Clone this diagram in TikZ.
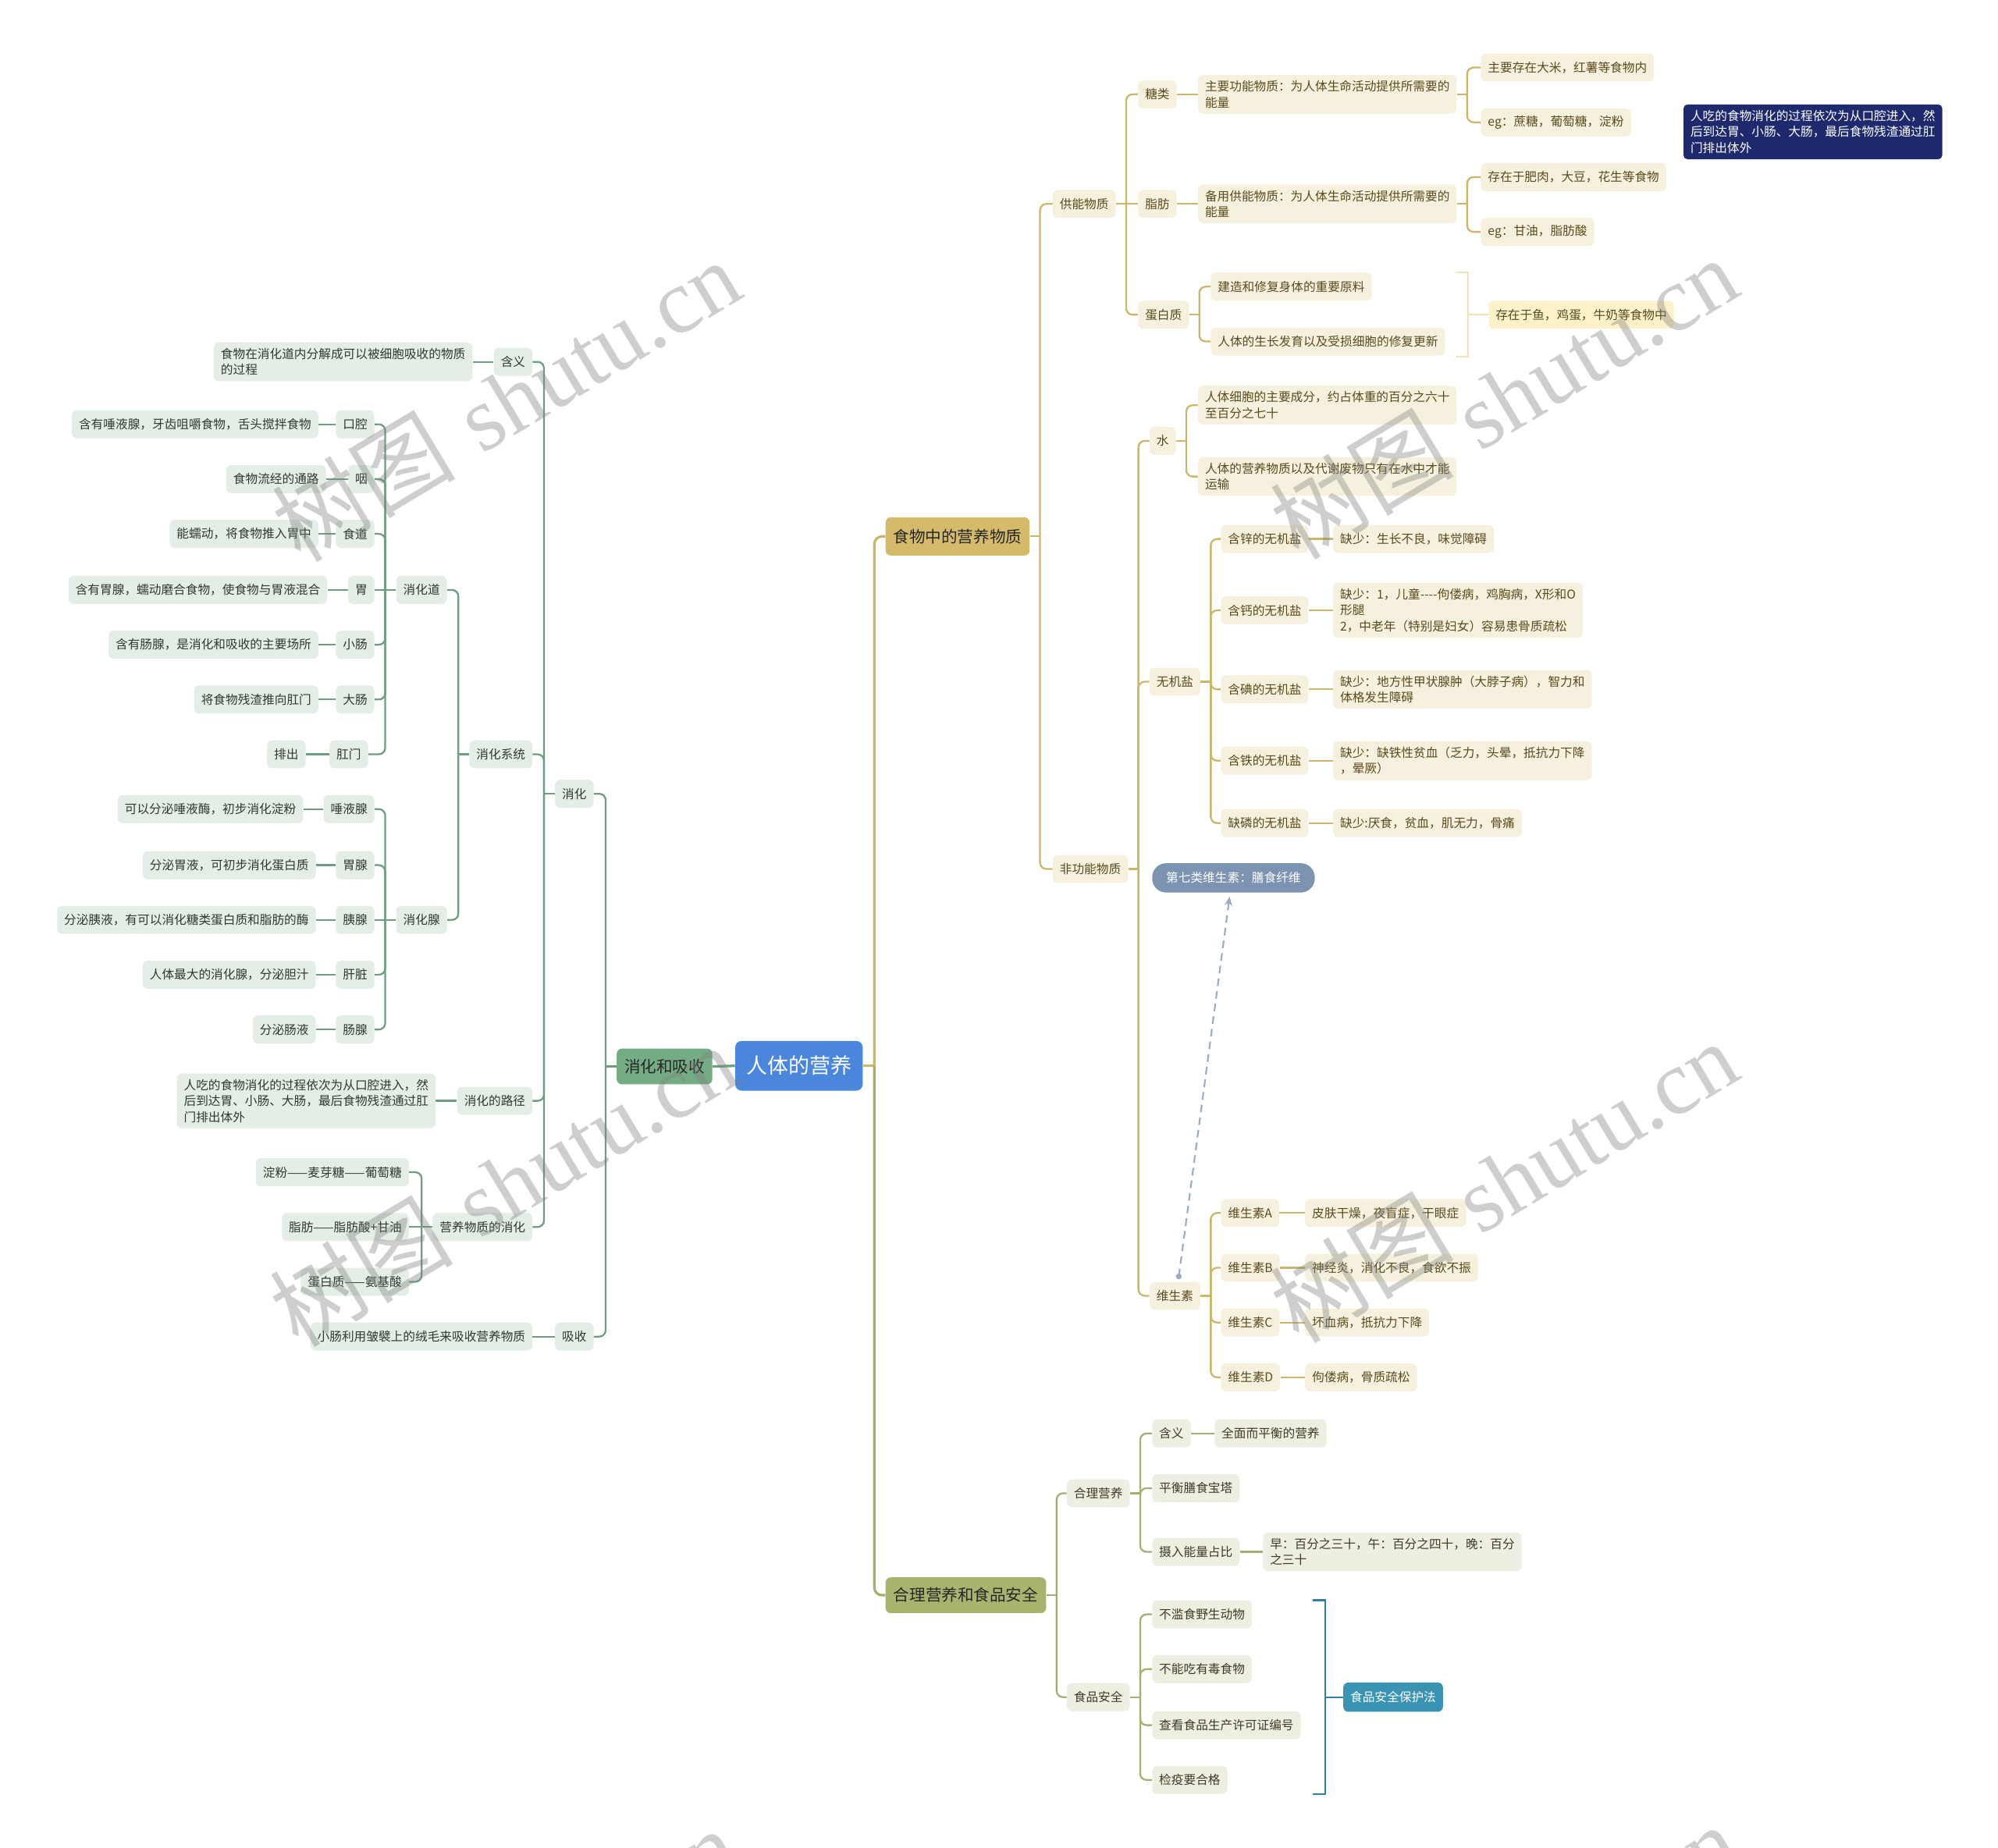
\documentclass[tikz,border=0pt]{standalone}
\usepackage{fontspec}
\newfontfamily\cjk{Noto Sans CJK SC}
\newfontfamily\wmfont{Liberation Serif}
\usetikzlibrary{arrows.meta}
\definecolor{goldline}{HTML}{CDB56A}
\definecolor{goldfill}{HTML}{F6F1DF}
\definecolor{goldtext}{HTML}{5A4A1C}
\definecolor{greenline}{HTML}{6E9E80}
\definecolor{greenfill}{HTML}{E4EEE7}
\definecolor{greentext}{HTML}{2C3A30}
\definecolor{oliveline}{HTML}{A6AE72}
\definecolor{olivefill}{HTML}{EEEEE2}
\definecolor{olivetext}{HTML}{3C3C26}
\definecolor{rootblue}{HTML}{4A86DB}
\definecolor{maingreen}{HTML}{74AC83}
\definecolor{maingold}{HTML}{D5BA6C}
\definecolor{mainolive}{HTML}{A8B46E}
\definecolor{navybox}{HTML}{1F2A6E}
\definecolor{lawblue}{HTML}{3A93B3}
\definecolor{slatebox}{HTML}{7D93B2}
\definecolor{sumfill}{HTML}{FDF1C9}
\definecolor{sumline}{HTML}{F0E3B4}
\definecolor{lawline}{HTML}{2F80A2}
\definecolor{dashcol}{HTML}{9AABC2}
\newcommand\fsmall{\cjk\fontsize{9.6}{12.5}\selectfont}
\newcommand\fmain{\cjk\fontsize{12.6}{15}\selectfont}
\newcommand\froot{\cjk\fontsize{16.5}{19}\selectfont}
\newcommand\rc[3]{\draw[#1] (#2.east) -- ([xshift=8pt]#2.east); \draw[#1,rounded corners=5pt] ([xshift=8pt]#2.east) |- (#3.west);}
\newcommand\lc[3]{\draw[#1] (#2.west) -- ([xshift=-8.5pt]#2.west); \draw[#1,rounded corners=5pt] ([xshift=-8.5pt]#2.west) |- (#3.east);}
\newcommand\rs[3]{\draw[#1] (#2.east) -- (#3.west);}
\newcommand\ls[3]{\draw[#1] (#2.west) -- (#3.east);}
\tikzset{
  box/.style={rounded corners=4pt, inner xsep=5.5pt, inner ysep=4.5pt, minimum height=22pt, align=left, font=\fsmall},
  gb/.style={box, fill=goldfill, text=goldtext, anchor=west},
  grb/.style={box, fill=greenfill, text=greentext, anchor=east},
  ob/.style={box, fill=olivefill, text=olivetext, anchor=west},
  mainbox/.style={rounded corners=4pt, inner sep=0pt, font=\fmain, text=black!85},
  gl/.style={draw=goldline, line width=1.4pt},
  grl/.style={draw=greenline, line width=1.4pt},
  ol/.style={draw=oliveline, line width=1.4pt},
  wm/.style={rotate=31, text=gray, opacity=0.38, font=\fontsize{72}{72}\selectfont},
}
\begin{document}
\begin{tikzpicture}[x=1pt,y=-1pt]
\path[use as bounding box, fill=white] (0,0) rectangle (1568,1450);

% ---------- main nodes
\node[mainbox, fill=rootblue, text=white, font=\froot, rounded corners=5pt, minimum width=100pt, minimum height=39pt] (root) at (627,836.5) {人体的营养};
\node[mainbox, fill=maingreen, minimum width=75pt, minimum height=28pt] (xhxs) at (521.5,837) {消化和吸收};
\node[mainbox, fill=maingold, minimum width=113pt, minimum height=30pt] (food) at (751.5,421) {食物中的营养物质};
\node[mainbox, fill=mainolive, minimum width=126pt, minimum height=28pt] (hlyy) at (758,1252) {合理营养和食品安全};

% ---------- gold branch
\node[gb] (gn) at (826,160) {供能物质};
\node[gb] (fgn) at (826,682) {非功能物质};
\node[gb] (tl) at (893,74) {糖类};
\node[gb] (zf) at (893,160) {脂肪};
\node[gb] (dbz) at (893,247) {蛋白质};
\node[gb] (tl1) at (940,74) {主要功能物质：为人体生命活动提供所需要的\\能量};
\node[gb] (tl1a) at (1162,53) {主要存在大米，红薯等食物内};
\node[gb] (tl1b) at (1162,96) {eg：蔗糖，葡萄糖，淀粉};
\node[gb] (zf1) at (940,160) {备用供能物质：为人体生命活动提供所需要的\\能量};
\node[gb] (zf1a) at (1162,139) {存在于肥肉，大豆，花生等食物};
\node[gb] (zf1b) at (1162,182) {eg：甘油，脂肪酸};
\node[gb] (dbz1) at (950,225) {建造和修复身体的重要原料};
\node[gb] (dbz2) at (950,268) {人体的生长发育以及受损细胞的修复更新};
\node[box, fill=sumfill, text=goldtext, anchor=west] (dbzs) at (1168,247) {存在于鱼，鸡蛋，牛奶等食物中};

\node[gb] (water) at (902,346) {水};
\node[gb] (w1) at (940,318) {人体细胞的主要成分，约占体重的百分之六十\\至百分之七十};
\node[gb] (w2) at (940,374) {人体的营养物质以及代谢废物只有在水中才能\\运输};
\node[gb] (wjy) at (902,535) {无机盐};
\node[gb] (m1) at (958,423) {含锌的无机盐};
\node[gb] (m1a) at (1046,423) {缺少：生长不良，味觉障碍};
\node[gb] (m2) at (958,479) {含钙的无机盐};
\node[gb] (m2a) at (1046,479) {缺少：1，儿童----佝偻病，鸡胸病，X形和O\\形腿\\2，中老年（特别是妇女）容易患骨质疏松};
\node[gb] (m3) at (958,541) {含碘的无机盐};
\node[gb] (m3a) at (1046,541) {缺少：地方性甲状腺肿（大脖子病），智力和\\体格发生障碍};
\node[gb] (m4) at (958,597) {含铁的无机盐};
\node[gb] (m4a) at (1046,597) {缺少：缺铁性贫血（乏力，头晕，抵抗力下降\\，晕厥）};
\node[gb] (m5) at (958,646) {缺磷的无机盐};
\node[gb] (m5a) at (1046,646) {缺少:厌食，贫血，肌无力，骨痛};
\node[box, fill=slatebox, text=white, anchor=west, rounded corners=11pt, inner xsep=11pt, minimum height=23pt] (fiber) at (904,689) {第七类维生素：膳食纤维};
\node[gb] (wss) at (902,1017) {维生素};
\node[gb] (va) at (958,952) {维生素A};
\node[gb] (vaa) at (1024,952) {皮肤干燥，夜盲症，干眼症};
\node[gb] (vb) at (958,995) {维生素B};
\node[gb] (vba) at (1024,995) {神经炎，消化不良，食欲不振};
\node[gb] (vc) at (958,1038) {维生素C};
\node[gb] (vca) at (1024,1038) {坏血病，抵抗力下降};
\node[gb] (vd) at (958,1081) {维生素D};
\node[gb] (vda) at (1024,1081) {佝偻病，骨质疏松};

\node[box, fill=navybox, text=white, anchor=west, rounded corners=3pt] (note) at (1321,103.5) {人吃的食物消化的过程依次为从口腔进入，然\\后到达胃、小肠、大肠，最后食物残渣通过肛\\门排出体外};

% ---------- olive branch
\node[ob] (hl) at (837,1172) {合理营养};
\node[ob] (sp) at (837,1332) {食品安全};
\node[ob] (hy) at (904,1125) {含义};
\node[ob] (hy1) at (953,1125) {全面而平衡的营养};
\node[ob] (ph) at (904,1168) {平衡膳食宝塔};
\node[ob] (sr) at (904,1218) {摄入能量占比};
\node[ob] (sr1) at (991,1218) {早：百分之三十，午：百分之四十，晚：百分\\之三十};
\node[ob] (s1) at (904,1267) {不滥食野生动物};
\node[ob] (s2) at (904,1310) {不能吃有毒食物};
\node[ob] (s3) at (904,1354) {查看食品生产许可证编号};
\node[ob] (s4) at (904,1397) {检疫要合格};
\node[box, fill=lawblue, text=white, anchor=west, minimum height=23pt] (law) at (1054,1332) {食品安全保护法};

% ---------- green branch
\node[grb] (xh) at (466,623) {消化};
\node[grb] (xs) at (466,1049) {吸收};
\node[grb] (xs1) at (418,1049) {小肠利用皱襞上的绒毛来吸收营养物质};
\node[grb] (hyl) at (418,284) {含义};
\node[grb] (hyl1) at (371,284) {食物在消化道内分解成可以被细胞吸收的物质\\的过程};
\node[grb] (xhxt) at (418,592) {消化系统};
\node[grb] (lj) at (418,864) {消化的路径};
\node[grb] (lj1) at (342,864) {人吃的食物消化的过程依次为从口腔进入，然\\后到达胃、小肠、大肠，最后食物残渣通过肛\\门排出体外};
\node[grb] (yy) at (418,963) {营养物质的消化};
\node[grb] (e1) at (321,920) {淀粉——麦芽糖——葡萄糖};
\node[grb] (e2) at (321,963) {脂肪——脂肪酸+甘油};
\node[grb] (e3) at (321,1006) {蛋白质——氨基酸};
\node[grb] (xhd) at (351,463) {消化道};
\node[grb] (xhx) at (351,722) {消化腺};
\node[grb] (kq) at (294,333) {口腔};
\node[grb] (kq1) at (250,333) {含有唾液腺，牙齿咀嚼食物，舌头搅拌食物};
\node[grb] (yan) at (294,376) {咽};
\node[grb] (yan1) at (256,376) {食物流经的通路};
\node[grb] (sd) at (294,419) {食道};
\node[grb] (sd1) at (250,419) {能蠕动，将食物推入胃中};
\node[grb] (wei) at (294,463) {胃};
\node[grb] (wei1) at (257,463) {含有胃腺，蠕动磨合食物，使食物与胃液混合};
\node[grb] (xc) at (294,506) {小肠};
\node[grb] (xc1) at (250,506) {含有肠腺，是消化和吸收的主要场所};
\node[grb] (dc) at (294,549) {大肠};
\node[grb] (dc1) at (250,549) {将食物残渣推向肛门};
\node[grb] (gm) at (289,592) {肛门};
\node[grb] (gm1) at (240,592) {排出};
\node[grb] (tyx) at (294,635) {唾液腺};
\node[grb] (tyx1) at (238,635) {可以分泌唾液酶，初步消化淀粉};
\node[grb] (wx) at (294,679) {胃腺};
\node[grb] (wx1) at (248,679) {分泌胃液，可初步消化蛋白质};
\node[grb] (yx) at (294,722) {胰腺};
\node[grb] (yx1) at (248,722) {分泌胰液，有可以消化糖类蛋白质和脂肪的酶};
\node[grb] (gz) at (294,765) {肝脏};
\node[grb] (gz1) at (248,765) {人体最大的消化腺，分泌胆汁};
\node[grb] (cx) at (294,808) {肠腺};
\node[grb] (cx1) at (248,808) {分泌肠液};

% ---------- connectors: root
\draw[grl, line width=2pt] (root.west) -- (xhxs.east);
\draw[gl, line width=2pt] (root.east) -- ([xshift=9pt]root.east);
\draw[gl, line width=2pt, rounded corners=6pt] ([xshift=9pt]root.east) |- (food.west);
\draw[ol, line width=2pt, rounded corners=6pt] ([xshift=9pt]root.east) |- (hlyy.west);

% gold
\rc{gl}{food}{gn} \rc{gl}{food}{fgn}
\rc{gl}{gn}{tl} \rs{gl}{gn}{zf} \rc{gl}{gn}{dbz}
\rs{gl}{tl}{tl1} \rc{gl}{tl1}{tl1a} \rc{gl}{tl1}{tl1b}
\rs{gl}{zf}{zf1} \rc{gl}{zf1}{zf1a} \rc{gl}{zf1}{zf1b}
\rc{gl}{dbz}{dbz1} \rc{gl}{dbz}{dbz2}
\rc{gl}{fgn}{water} \rc{gl}{fgn}{wjy} \rc{gl}{fgn}{wss}
\rc{gl}{water}{w1} \rc{gl}{water}{w2}
\rc{gl}{wjy}{m1} \rc{gl}{wjy}{m2} \rc{gl}{wjy}{m3} \rc{gl}{wjy}{m4} \rc{gl}{wjy}{m5}
\rs{gl}{m1}{m1a} \rs{gl}{m2}{m2a} \rs{gl}{m3}{m3a} \rs{gl}{m4}{m4a} \rs{gl}{m5}{m5a}
\rc{gl}{wss}{va} \rc{gl}{wss}{vb} \rc{gl}{wss}{vc} \rc{gl}{wss}{vd}
\rs{gl}{va}{vaa} \rs{gl}{vb}{vba} \rs{gl}{vc}{vca} \rs{gl}{vd}{vda}

% summary bracket for protein
\coordinate (bt1) at (1142,214);
\coordinate (bt2) at (1152,214);
\coordinate (bb2) at (1152,280);
\coordinate (bb1) at (1142,280);
\coordinate (bm) at (1152,247);
\draw[draw=sumline, line width=1.2pt] (bt1) -- (bt2) -- (bb2) -- (bb1);
\draw[draw=sumline, line width=1.2pt] (bm) -- (dbzs.west);

% dashed relation
\coordinate (dS) at ([xshift=3pt,yshift=4pt]wss.north);
\coordinate (dE) at ([xshift=-3pt,yshift=-3pt]fiber.south);
\fill[dashcol] (dS) circle (2.3pt);
\draw[draw=dashcol, line width=1.3pt, dash pattern=on 6pt off 4pt, -{Stealth[length=7pt,width=6pt]}] (dS) -- (dE);

% olive
\rc{ol}{hlyy}{hl} \rc{ol}{hlyy}{sp}
\rc{ol}{hl}{hy} \rc{ol}{hl}{ph} \rc{ol}{hl}{sr}
\rs{ol}{hy}{hy1} \rs{ol}{sr}{sr1}
\rc{ol}{sp}{s1} \rc{ol}{sp}{s2} \rc{ol}{sp}{s3} \rc{ol}{sp}{s4}
\coordinate (lt1) at (1030,1256);
\coordinate (lt2) at (1040,1256);
\coordinate (lb2) at (1040,1408);
\coordinate (lb1) at (1030,1408);
\coordinate (lm) at (1040,1332);
\draw[draw=lawline, line width=1.4pt] (lt1) -- (lt2) -- (lb2) -- (lb1);
\draw[draw=lawline, line width=1.4pt] (lm) -- (law.west);

% green
\lc{grl}{xhxs}{xh} \lc{grl}{xhxs}{xs}
\ls{grl}{xs}{xs1}
\lc{grl}{xh}{hyl} \lc{grl}{xh}{xhxt} \lc{grl}{xh}{lj} \lc{grl}{xh}{yy}
\ls{grl}{hyl}{hyl1} \ls{grl}{lj}{lj1}
\lc{grl}{yy}{e1} \ls{grl}{yy}{e2} \lc{grl}{yy}{e3}
\lc{grl}{xhxt}{xhd} \lc{grl}{xhxt}{xhx}
\lc{grl}{xhd}{kq} \lc{grl}{xhd}{yan} \lc{grl}{xhd}{sd} \ls{grl}{xhd}{wei} \lc{grl}{xhd}{xc} \lc{grl}{xhd}{dc} \lc{grl}{xhd}{gm}
\ls{grl}{kq}{kq1} \ls{grl}{yan}{yan1} \ls{grl}{sd}{sd1} \ls{grl}{wei}{wei1} \ls{grl}{xc}{xc1} \ls{grl}{dc}{dc1} \ls{grl}{gm}{gm1}
\lc{grl}{xhx}{tyx} \lc{grl}{xhx}{wx} \ls{grl}{xhx}{yx} \lc{grl}{xhx}{gz} \lc{grl}{xhx}{cx}
\ls{grl}{tyx}{tyx1} \ls{grl}{wx}{wx1} \ls{grl}{yx}{yx1} \ls{grl}{gz}{gz1} \ls{grl}{cx}{cx1}

% ---------- watermarks
\node[wm] (wm1) at (397,314) {{\cjk 树图} {\wmfont shutu.cn}};
\node[wm] (wm2) at (1180,312) {{\cjk 树图} {\wmfont shutu.cn}};
\node[wm] (wm3) at (395,930) {{\cjk 树图} {\wmfont shutu.cn}};
\node[wm] (wm4) at (1180,927) {{\cjk 树图} {\wmfont shutu.cn}};
\node[wm] (wm5) at (395,1545) {{\cjk 树图} {\wmfont shutu.cn}};
\node[wm] (wm6) at (1180,1542) {{\cjk 树图} {\wmfont shutu.cn}};
\end{tikzpicture}
\end{document}
